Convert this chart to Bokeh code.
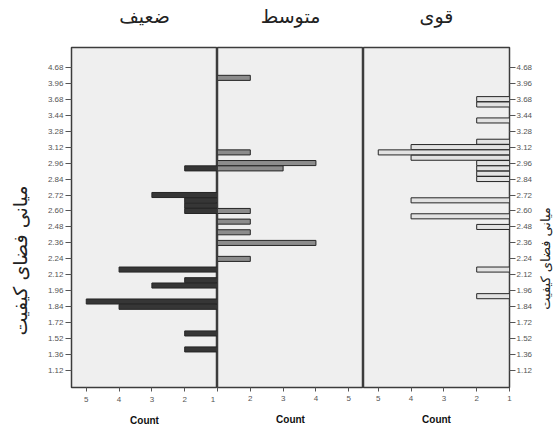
import math
from bokeh.plotting import figure
from bokeh.layouts import row, column
from bokeh.models import Range1d, FixedTicker, ColumnDataSource, LinearAxis
from bokeh.core.properties import value
from bokeh.embed import file_html
from bokeh.resources import INLINE

# ---- data ----
# y-axis tick labels, bottom to top; each label marks every 3rd category row
tick_labels = ["1.12", "1.36", "1.52", "1.72", "1.84", "1.96", "2.12", "2.24", "2.36", "2.48",
               "2.60", "2.72", "2.84", "2.96", "3.12", "3.28", "3.44", "3.68", "3.96", "4.68"]
panel_titles = ["ضعیف", "متوسط", "قوی"]
y_title = "کیفیت\u200e فضای\u200e میانی"

# category rows (label i sits at row 3*i) and counts per panel
weak_rows = [38, 33, 32, 31, 30, 19, 17, 16, 13, 12, 7, 4]
weak_counts = [2, 3, 2, 2, 2, 4, 2, 3, 5, 4, 2, 2]

mid_rows = [55, 41, 39, 38, 30, 28, 26, 24, 21]
mid_counts = [2, 2, 4, 3, 2, 2, 2, 4, 2]

strong_rows = [51, 50, 47, 43, 42, 41, 40, 39, 38, 37, 36, 32, 29, 27, 19, 14]
strong_counts = [2, 2, 2, 2, 4, 5, 4, 2, 2, 2, 2, 4, 4, 2, 2, 2]

count_ticks = [1, 2, 3, 4, 5]

# ---- layout constants ----
H = 428
TITLE_H = 45
MAIN_H = H - TITLE_H
TOP = 2
BOTTOM = 41
PANEL_W = 146
LEFT_STRIP = 36
LEFT_AXIS = 35
RIGHT_AXIS = 27
RIGHT_STRIP = 17
Y_RANGE = (-3.15, 60.7)
X_MAX = 5.45
FRAME_BG = "#efefef"
EDGE = "#3c3c3c"
TICK_COLOR = "#555555"
AR_FONT = "DejaVu Sans"

tick_pos = [3 * i for i in range(len(tick_labels))]
overrides = {t: lab for t, lab in zip(tick_pos, tick_labels)}


def strip(width, height):
    s = figure(width=width, height=height, x_range=Range1d(0, width), y_range=Range1d(0, height),
               output_backend="svg", toolbar_location=None, min_border=0,
               min_border_left=0, min_border_right=0, min_border_top=0, min_border_bottom=0,
               background_fill_color="white", border_fill_color="white")
    s.outline_line_color = None
    s.axis.visible = False
    s.grid.visible = False
    return s


def make_panel(rows, counts, fill, reverse, width, border_left, border_right,
               x_over, lab_standoff):
    xr = Range1d(X_MAX, 1) if reverse else Range1d(1, X_MAX)
    p = figure(width=width, height=MAIN_H, x_range=xr, y_range=Range1d(*Y_RANGE),
               output_backend="svg", toolbar_location=None,
               min_border_left=border_left, min_border_right=border_right,
               min_border_top=TOP, min_border_bottom=BOTTOM,
               background_fill_color=FRAME_BG, border_fill_color="white")
    p.outline_line_color = EDGE
    p.outline_line_width = 1.5
    p.grid.visible = False

    src = ColumnDataSource(dict(y=rows, right=counts, left=[1] * len(rows)))
    p.hbar(y="y", left="left", right="right", height=0.95, source=src,
           fill_color=fill, line_color="#262626", line_width=1)

    xa = p.xaxis[0]
    xa.ticker = FixedTicker(ticks=count_ticks)
    xa.major_label_overrides = x_over
    xa.axis_label = "Count"
    xa.axis_label_text_font = "Liberation Sans"
    xa.axis_label_text_font_style = "bold"
    xa.axis_label_text_font_size = "10px"
    xa.axis_label_text_color = "#111111"
    xa.axis_label_standoff = lab_standoff[1]
    xa.major_label_text_font_size = "8px"
    xa.major_label_text_color = TICK_COLOR
    xa.major_label_standoff = lab_standoff[0]
    xa.major_tick_out = 4
    xa.major_tick_in = 0
    xa.minor_tick_out = 0
    xa.minor_tick_in = 0
    xa.axis_line_color = None
    xa.major_tick_line_color = TICK_COLOR
    return p


def style_yaxis(ax, standoff):
    ax.ticker = FixedTicker(ticks=tick_pos)
    ax.major_label_overrides = overrides
    ax.major_label_text_font_size = "8px"
    ax.major_label_text_color = TICK_COLOR
    ax.major_label_standoff = standoff
    ax.major_tick_out = 6
    ax.major_tick_in = 0
    ax.minor_tick_out = 0
    ax.minor_tick_in = 0
    ax.axis_line_color = None
    ax.major_tick_line_color = TICK_COLOR


p1 = make_panel(weak_rows, weak_counts, "#363636", True,
                LEFT_AXIS + PANEL_W, LEFT_AXIS, 0, {1: "1\u00a0"}, (3, 8))
style_yaxis(p1.yaxis[0], 2)

p2 = make_panel(mid_rows, mid_counts, "#8c8c8c", False, PANEL_W, 0, 0, {1: ""}, (4, 10))
p2.yaxis.visible = False

p3 = make_panel(strong_rows, strong_counts, "#e2e2e2", True,
                PANEL_W + RIGHT_AXIS, 0, RIGHT_AXIS, {}, (4, 10))
p3.yaxis.visible = False
ra = LinearAxis()
style_yaxis(ra, 1)
p3.add_layout(ra, "right")

# panel titles strip above the three panels
mid_w = LEFT_AXIS + 3 * PANEL_W + RIGHT_AXIS
ts = strip(mid_w, TITLE_H)
title_x = [LEFT_AXIS + PANEL_W * (i + 0.5) for i in range(3)]
ts.text(x=title_x, y=[TITLE_H - 15] * 3, text=panel_titles,
        text_font=value(AR_FONT), text_font_size="19px", text_color="#222222",
        text_align="center", text_baseline="middle")

# y-axis titles, left (full) and right (mirrored)
ls = strip(LEFT_STRIP, H)
ls.text(x=[19], y=[H - 260], text=[y_title], angle=math.pi / 2,
        text_font=value(AR_FONT), text_font_size="19px", text_color="#222222",
        text_align="center", text_baseline="middle")

rs = strip(RIGHT_STRIP, H)
rs.text(x=[8.5], y=[H - 258], text=[y_title], angle=math.pi / 2,
        text_font=value(AR_FONT), text_font_size="13px", text_color="#222222",
        text_align="center", text_baseline="middle")

layout = row(ls, column(ts, row(p1, p2, p3, spacing=0), spacing=0), rs, spacing=0)

open("out.html", "w").write(file_html(layout, INLINE))
